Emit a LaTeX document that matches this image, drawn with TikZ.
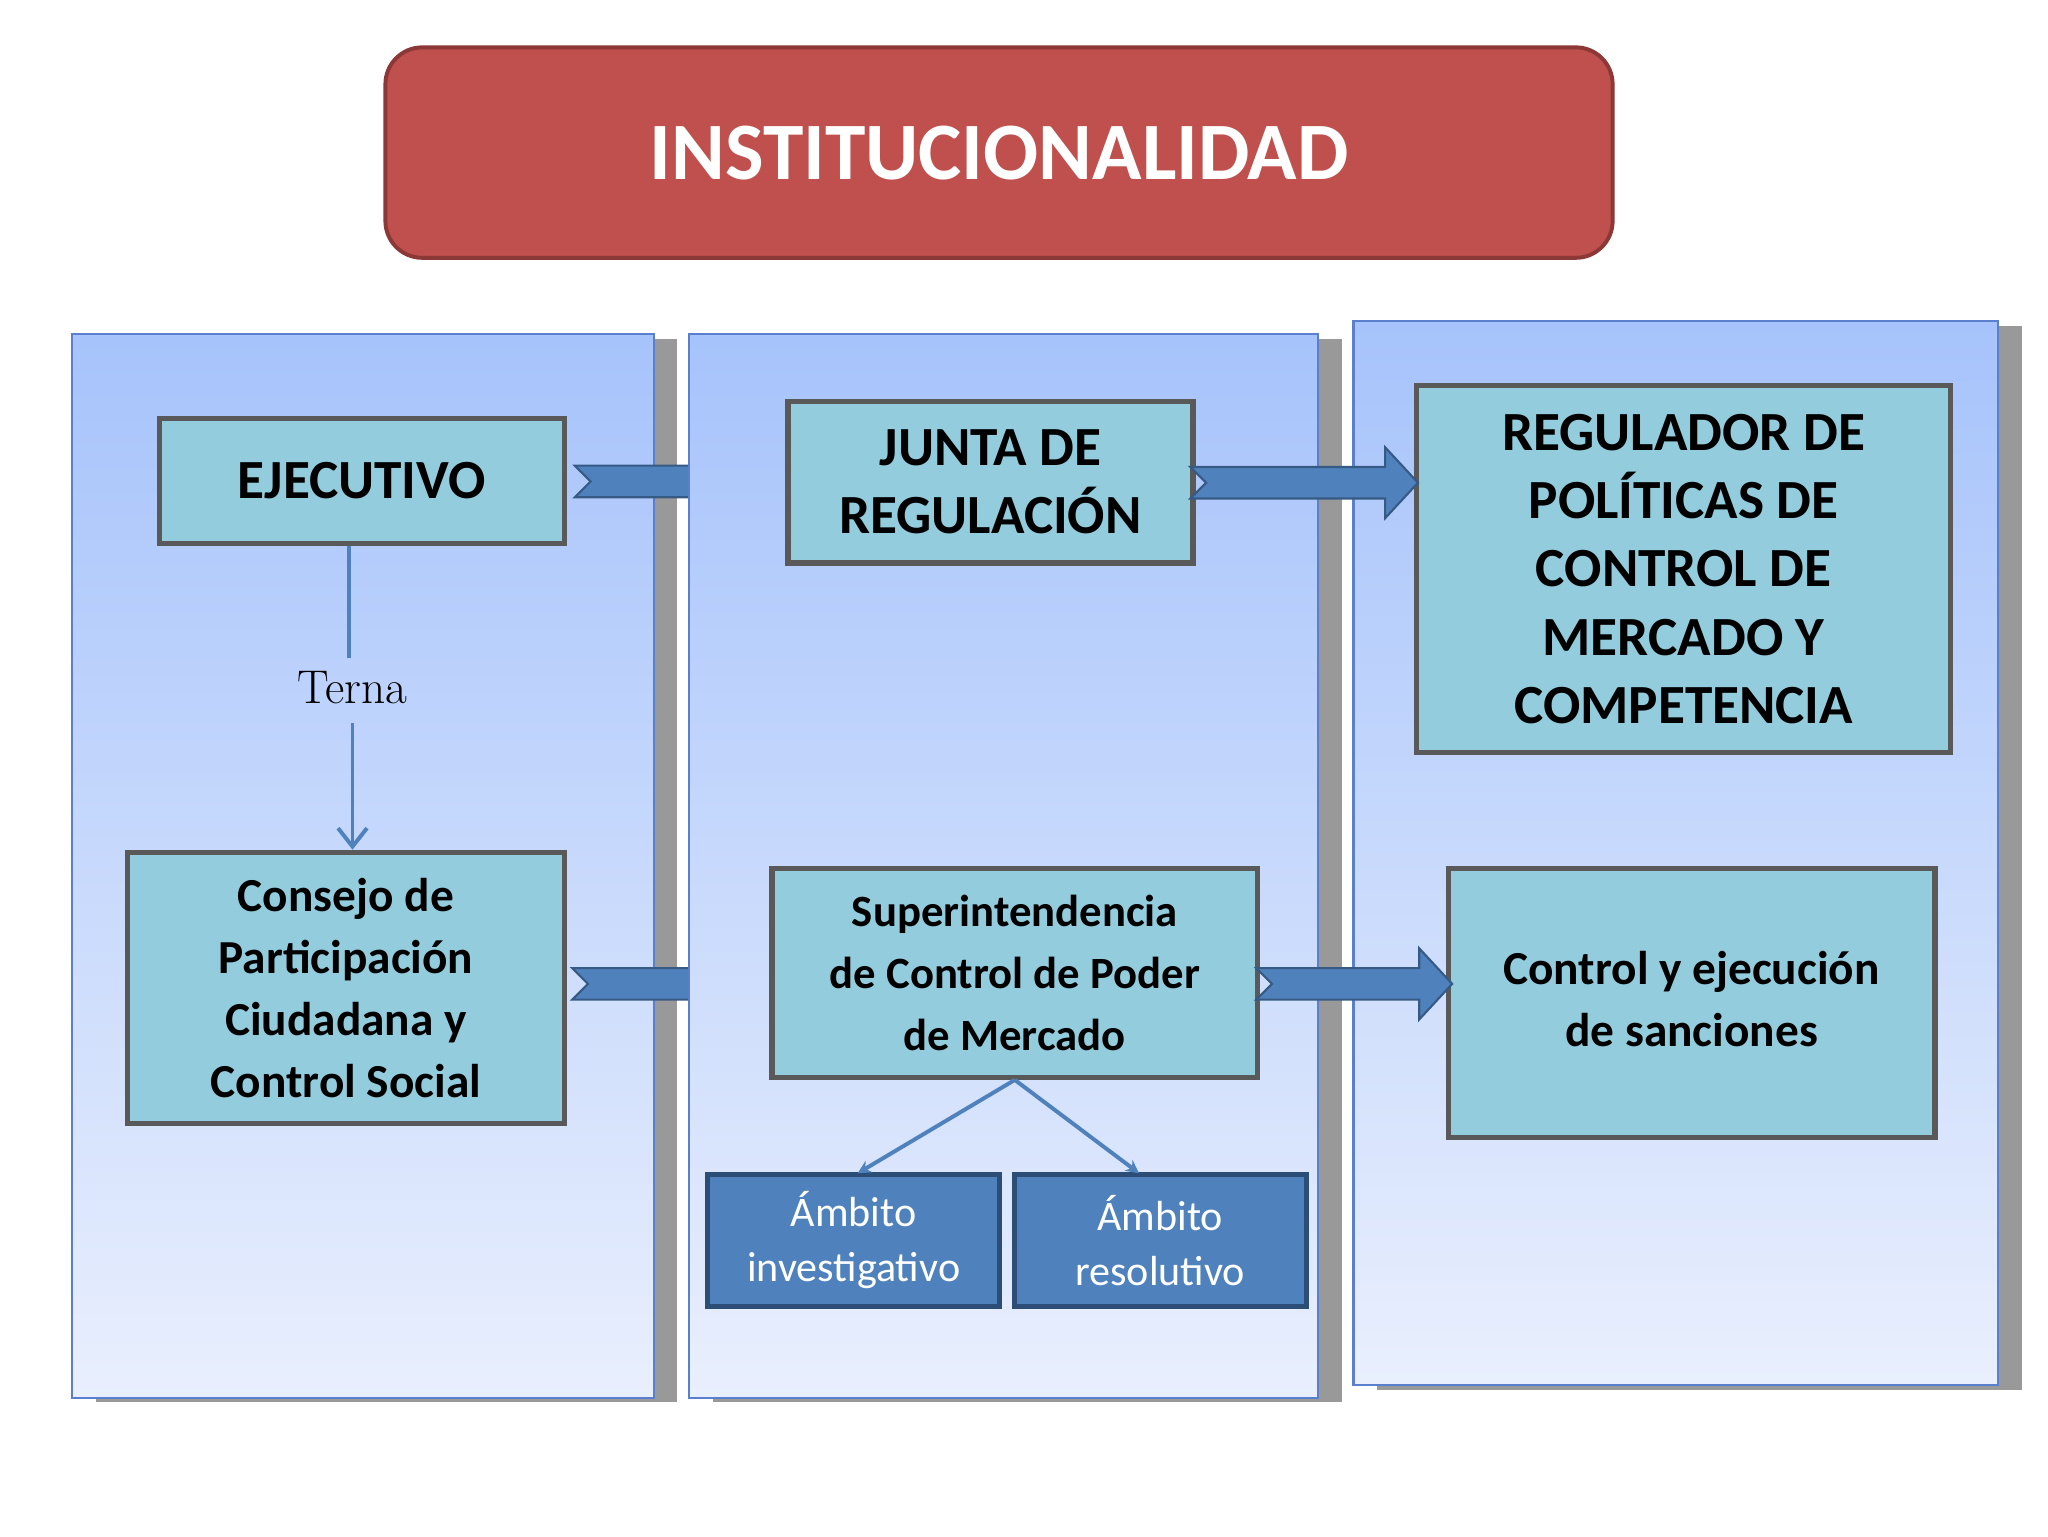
\documentclass[tikz,border=0pt]{standalone}
\usepackage{fontspec}
\setmainfont{Carlito}
\newfontfamily\sermain{Latin Modern Roman}
\usetikzlibrary{arrows.meta}
\definecolor{pbor}{HTML}{5B7FCF}
\definecolor{ptop}{HTML}{A6C3FB}
\definecolor{pbot}{HTML}{E9EFFD}
\definecolor{bfill}{HTML}{93CDDD}
\definecolor{bborder}{HTML}{595959}
\definecolor{ablue}{HTML}{4F81BD}
\definecolor{adark}{HTML}{2C4D75}
\definecolor{tred}{HTML}{C0504D}
\definecolor{tredb}{HTML}{8C3836}
\tikzset{
 panel/.style={draw=pbor,line width=0.8pt,top color=ptop,bottom color=pbot},
 shadowbox/.style={fill=black!40},
 box/.style={draw=bborder,fill=bfill,line width=2pt,align=center,font=\bfseries\fontsize{21}{26}\selectfont,inner sep=0},
 abox/.style={draw=adark,fill=ablue,line width=2pt,align=center,text=white,font=\fontsize{16}{21}\selectfont,inner sep=0},
 barrow/.style={fill=ablue,draw=ablue!70!black,line width=0.8pt},
 conn/.style={draw=ablue,line width=1.5pt}
}
\newcommand\blockarrow[3]{%
 \path[barrow] (#1,#3-12) -- (#2-25,#3-12) -- (#2-25,#3-27) -- (#2,#3) -- (#2-25,#3+27) -- (#2-25,#3+12) -- (#1,#3+12) -- (#1+12,#3) -- cycle;}
\begin{document}
\begin{tikzpicture}[x=0.5pt,y=-0.5pt]
\useasboundingbox (0,0) rectangle (1557,1168);
% title
\node[draw=tredb,fill=tred,line width=1.5pt,rounded corners=14pt,minimum width=466.5pt,minimum height=80pt,text=white,font=\bfseries\fontsize{31}{36}\selectfont] (title) at (759.5,116) {INSTITUCIONALIDAD};
% left panel
\fill[shadowbox] (73,258) rectangle (515,1066);
\path[panel] (55,254) rectangle (497,1063);
\blockarrow{437}{560}{366}
\blockarrow{435}{560}{748}
% middle panel
\fill[shadowbox] (542,258) rectangle (1020,1066);
\path[panel] (524,254) rectangle (1002,1063);
% right panel
\fill[shadowbox] (1047,248) rectangle (1537,1057);
\path[panel] (1029,244) rectangle (1519,1053);
% boxes
\node[box,minimum width=154pt,minimum height=47.5pt] (ej) at (275,365.5) {\raisebox{-6pt}{EJECUTIVO}};
\node[box,minimum width=154pt,minimum height=61.5pt] (junta) at (753,366.5) {JUNTA DE\\REGULACIÓN};
\node[box,minimum width=203pt,minimum height=139.5pt] (reg) at (1280,432.5) {REGULADOR DE\\POLÍTICAS DE\\CONTROL DE\\MERCADO Y\\COMPETENCIA};
\node[box,minimum width=166pt,minimum height=103pt,font=\bfseries\fontsize{18}{23.5}\selectfont] (cons) at (263,751) {Consejo de\\Participación\\Ciudadana y\\Control Social};
\node[box,minimum width=184.5pt,minimum height=79.5pt,font=\bfseries\fontsize{17}{23.5}\selectfont] (sup) at (771.5,739.5) {Superintendencia\\de Control de Poder\\de Mercado};
\node[box,minimum width=185pt,minimum height=102.5pt,font=\bfseries\fontsize{18}{23.5}\selectfont] (ctrl) at (1286,762.5) {\raisebox{12pt}{\begin{tabular}{@{}c@{}}Control y ejecución\\de sanciones\end{tabular}}};
\node[abox,minimum width=111pt,minimum height=50pt] (a1) at (649,943) {Ámbito\\investigativo};
\node[abox,minimum width=111pt,minimum height=50pt] (a2) at (882,943) {Ámbito\\resolutivo};
% block arrows
\blockarrow{905}{1078}{367}
\blockarrow{955}{1104}{748}
% Terna
\node[font=\sermain\fontsize{18}{20}\selectfont] (terna) at (268,523) {Terna};
\draw[conn] (265,415) -- (265,500);
\draw[conn,-{Straight Barb[length=7pt,width=11pt]}] (268,550) -- (cons.north -| 268,0);
% super to ambitos
\draw[conn,-{Stealth[length=5pt,width=5pt]}] (sup.south) -- (652,892);
\draw[conn,-{Stealth[length=5pt,width=5pt]}] (sup.south) -- (866,892);
\end{tikzpicture}
\end{document}
